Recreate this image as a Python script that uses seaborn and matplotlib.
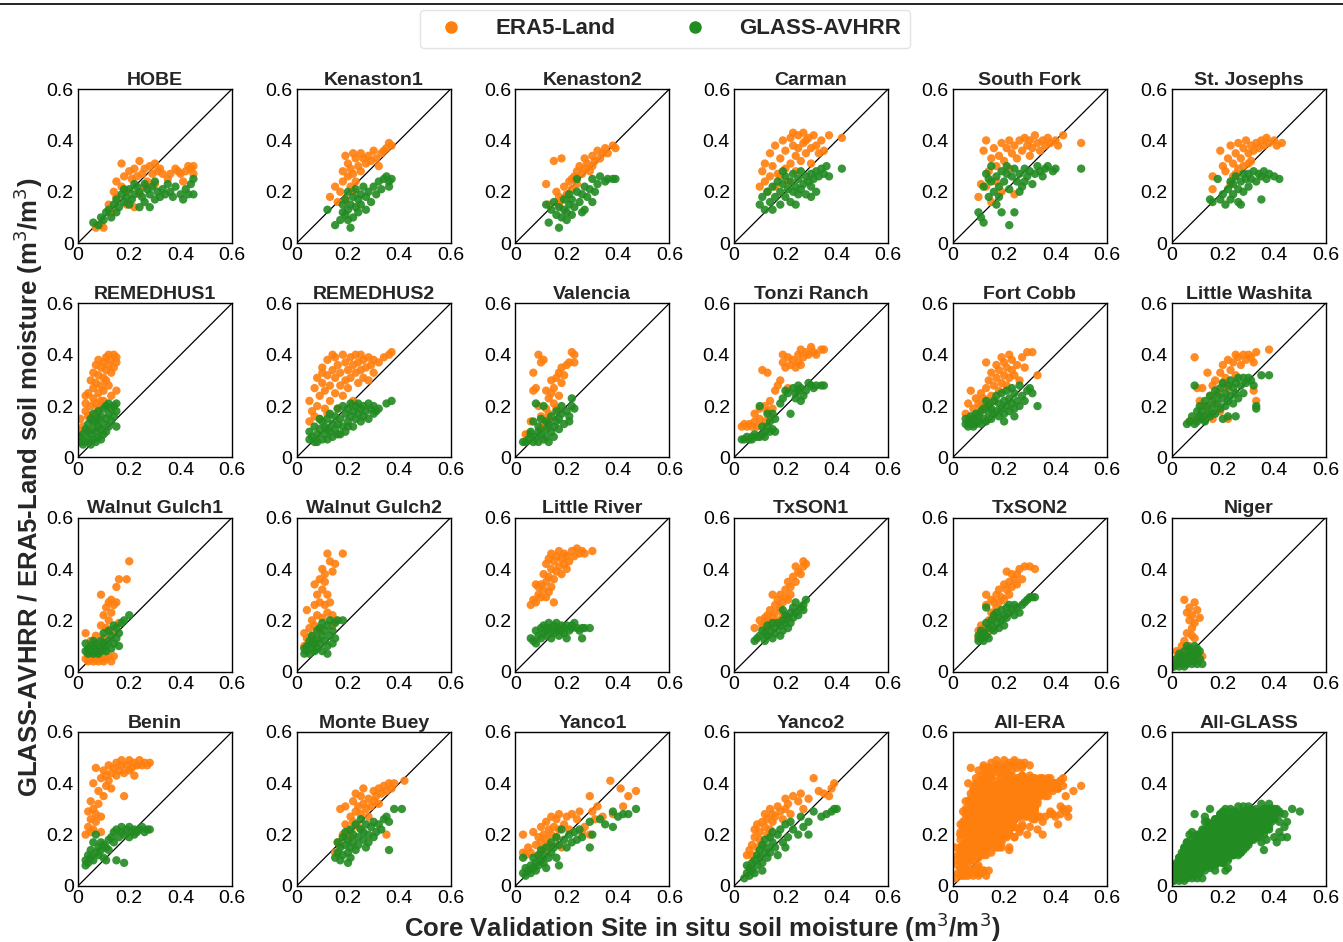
import pandas as pd
import matplotlib.pyplot as plt
import seaborn as sns

# site names in panel order (last two panels are the pooled data)
sites = ['HOBE', 'Kenaston1', 'Kenaston2', 'Carman', 'South Fork', 'St. Josephs',
         'REMEDHUS1', 'REMEDHUS2', 'Valencia', 'Tonzi Ranch', 'Fort Cobb', 'Little Washita',
         'Walnut Gulch1', 'Walnut Gulch2', 'Little River', 'TxSON1', 'TxSON2', 'Niger',
         'Benin', 'Monte Buey', 'Yanco1', 'Yanco2']
panels = sites + ['All-ERA', 'All-GLASS']
tick_vals = [0, 0.2, 0.4, 0.6]
tick_labels = ['0', '0.2', '0.4', '0.6']

# (in situ, product) pairs
hobe_era = [(0.07,0.06),(0.09,0.07),(0.10,0.06),(0.12,0.15),(0.13,0.12),(0.15,0.18),(0.15,0.24),(0.17,0.22),(0.17,0.31),(0.18,0.26),(0.19,0.20),(0.20,0.28),(0.21,0.25),(0.22,0.29),(0.23,0.26),(0.24,0.32),(0.25,0.27),(0.26,0.29),(0.27,0.24),(0.28,0.30),(0.29,0.27),(0.30,0.31),(0.31,0.28),(0.32,0.29),(0.33,0.27),(0.35,0.25),(0.36,0.27),(0.38,0.29),(0.39,0.28),(0.40,0.27),(0.42,0.28),(0.43,0.30),(0.44,0.29),(0.45,0.30),(0.45,0.27),(0.41,0.24),(0.22,0.14),(0.24,0.19),(0.19,0.15),(0.14,0.20),(0.26,0.22),(0.30,0.23)]
hobe_glass = [(0.06,0.08),(0.08,0.07),(0.09,0.10),(0.10,0.09),(0.11,0.12),(0.12,0.13),(0.13,0.10),(0.14,0.15),(0.15,0.17),(0.16,0.14),(0.17,0.19),(0.18,0.16),(0.19,0.18),(0.20,0.21),(0.21,0.17),(0.22,0.19),(0.23,0.22),(0.24,0.20),(0.25,0.18),(0.26,0.23),(0.27,0.21),(0.28,0.19),(0.29,0.22),(0.30,0.24),(0.31,0.20),(0.32,0.18),(0.33,0.21),(0.34,0.19),(0.36,0.20),(0.37,0.18),(0.38,0.22),(0.40,0.19),(0.41,0.17),(0.42,0.21),(0.43,0.19),(0.44,0.23),(0.45,0.25),(0.45,0.19),(0.20,0.15),(0.24,0.14),(0.28,0.14),(0.15,0.12),(0.22,0.23),(0.30,0.17),(0.35,0.23),(0.18,0.21),(0.26,0.16)]
kenaston1_era = [(0.13,0.18),(0.15,0.22),(0.16,0.16),(0.17,0.20),(0.18,0.24),(0.18,0.28),(0.19,0.34),(0.20,0.31),(0.20,0.26),(0.21,0.29),(0.21,0.22),(0.22,0.35),(0.22,0.27),(0.23,0.33),(0.23,0.24),(0.24,0.30),(0.25,0.35),(0.25,0.28),(0.26,0.33),(0.27,0.31),(0.28,0.34),(0.29,0.32),(0.30,0.36),(0.31,0.33),(0.32,0.30),(0.33,0.35),(0.34,0.36),(0.35,0.37),(0.36,0.39),(0.37,0.38),(0.22,0.20),(0.19,0.17)]
kenaston1_glass = [(0.12,0.13),(0.15,0.07),(0.17,0.09),(0.18,0.12),(0.18,0.15),(0.19,0.11),(0.19,0.17),(0.20,0.13),(0.20,0.20),(0.21,0.06),(0.21,0.15),(0.22,0.10),(0.22,0.18),(0.23,0.14),(0.23,0.21),(0.24,0.12),(0.24,0.17),(0.25,0.19),(0.25,0.15),(0.26,0.22),(0.27,0.13),(0.27,0.18),(0.28,0.20),(0.29,0.16),(0.30,0.22),(0.31,0.19),(0.32,0.24),(0.33,0.21),(0.34,0.25),(0.35,0.26),(0.36,0.24),(0.37,0.25),(0.36,0.22),(0.20,0.09)]
kenaston2_era = [(0.12,0.23),(0.13,0.15),(0.15,0.32),(0.16,0.20),(0.17,0.18),(0.18,0.33),(0.18,0.17),(0.19,0.22),(0.20,0.19),(0.21,0.24),(0.22,0.21),(0.23,0.26),(0.24,0.28),(0.24,0.23),(0.25,0.30),(0.26,0.27),(0.27,0.33),(0.27,0.29),(0.28,0.31),(0.29,0.28),(0.30,0.34),(0.30,0.30),(0.31,0.32),(0.32,0.36),(0.33,0.33),(0.34,0.35),(0.35,0.37),(0.36,0.35),(0.38,0.38),(0.39,0.37),(0.17,0.15),(0.22,0.25)]
kenaston2_glass = [(0.12,0.15),(0.13,0.08),(0.14,0.13),(0.15,0.16),(0.16,0.11),(0.17,0.14),(0.17,0.06),(0.18,0.10),(0.19,0.13),(0.19,0.17),(0.20,0.12),(0.21,0.15),(0.21,0.19),(0.22,0.11),(0.22,0.17),(0.23,0.14),(0.24,0.20),(0.25,0.16),(0.26,0.19),(0.27,0.22),(0.27,0.13),(0.28,0.18),(0.29,0.21),(0.30,0.16),(0.30,0.25),(0.31,0.20),(0.32,0.23),(0.33,0.26),(0.35,0.24),(0.36,0.25),(0.38,0.25),(0.39,0.25),(0.24,0.25),(0.26,0.12),(0.20,0.09)]
carman_era = [(0.10,0.22),(0.11,0.28),(0.12,0.24),(0.12,0.31),(0.14,0.26),(0.14,0.35),(0.15,0.30),(0.16,0.22),(0.16,0.38),(0.17,0.27),(0.18,0.33),(0.19,0.40),(0.20,0.29),(0.20,0.36),(0.21,0.24),(0.22,0.31),(0.22,0.41),(0.23,0.38),(0.24,0.34),(0.24,0.28),(0.25,0.42),(0.25,0.37),(0.26,0.32),(0.27,0.39),(0.27,0.43),(0.28,0.35),(0.29,0.41),(0.30,0.37),(0.30,0.31),(0.31,0.42),(0.32,0.38),(0.33,0.35),(0.34,0.40),(0.35,0.36),(0.37,0.42),(0.42,0.41),(0.18,0.26),(0.13,0.20),(0.23,0.43),(0.28,0.40)]
carman_glass = [(0.10,0.15),(0.11,0.18),(0.12,0.13),(0.13,0.20),(0.14,0.16),(0.15,0.22),(0.15,0.13),(0.16,0.18),(0.17,0.24),(0.18,0.15),(0.18,0.20),(0.19,0.23),(0.20,0.18),(0.20,0.26),(0.21,0.21),(0.22,0.16),(0.22,0.24),(0.23,0.27),(0.23,0.20),(0.24,0.22),(0.24,0.15),(0.25,0.25),(0.26,0.28),(0.26,0.21),(0.27,0.23),(0.28,0.26),(0.28,0.19),(0.29,0.24),(0.30,0.27),(0.30,0.22),(0.31,0.25),(0.32,0.28),(0.33,0.26),(0.34,0.29),(0.35,0.27),(0.36,0.30),(0.37,0.26),(0.42,0.29),(0.30,0.18),(0.32,0.20),(0.25,0.19),(0.19,0.28)]
southfork_era = [(0.10,0.18),(0.11,0.23),(0.12,0.36),(0.13,0.40),(0.14,0.28),(0.15,0.33),(0.15,0.16),(0.16,0.37),(0.17,0.30),(0.18,0.34),(0.19,0.39),(0.19,0.20),(0.20,0.32),(0.21,0.37),(0.22,0.40),(0.22,0.29),(0.23,0.35),(0.24,0.38),(0.25,0.33),(0.26,0.40),(0.27,0.36),(0.28,0.41),(0.29,0.38),(0.30,0.34),(0.30,0.40),(0.31,0.37),(0.32,0.42),(0.33,0.39),(0.34,0.36),(0.35,0.40),(0.36,0.38),(0.37,0.41),(0.38,0.39),(0.40,0.40),(0.41,0.38),(0.43,0.42),(0.50,0.39),(0.24,0.19),(0.17,0.24),(0.13,0.22)]
southfork_glass = [(0.10,0.12),(0.11,0.10),(0.12,0.08),(0.12,0.22),(0.13,0.27),(0.14,0.18),(0.15,0.24),(0.15,0.30),(0.16,0.20),(0.17,0.15),(0.17,0.26),(0.18,0.22),(0.19,0.28),(0.19,0.12),(0.20,0.24),(0.21,0.27),(0.22,0.07),(0.22,0.21),(0.23,0.26),(0.24,0.12),(0.24,0.29),(0.25,0.24),(0.26,0.27),(0.27,0.22),(0.28,0.29),(0.29,0.26),(0.30,0.28),(0.31,0.23),(0.32,0.27),(0.33,0.30),(0.34,0.28),(0.35,0.26),(0.36,0.29),(0.37,0.30),(0.39,0.28),(0.40,0.29),(0.50,0.29),(0.26,0.20),(0.18,0.18),(0.14,0.25),(0.21,0.30),(0.28,0.24)]
stjosephs_era = [(0.16,0.26),(0.16,0.21),(0.19,0.36),(0.20,0.30),(0.21,0.28),(0.22,0.33),(0.23,0.23),(0.23,0.38),(0.24,0.31),(0.25,0.35),(0.26,0.29),(0.26,0.39),(0.27,0.33),(0.28,0.37),(0.28,0.30),(0.29,0.40),(0.30,0.35),(0.31,0.38),(0.31,0.32),(0.32,0.36),(0.33,0.39),(0.34,0.37),(0.35,0.40),(0.36,0.38),(0.37,0.41),(0.38,0.39),(0.40,0.40),(0.41,0.38),(0.43,0.39),(0.25,0.27),(0.30,0.31),(0.24,0.26)]
stjosephs_glass = [(0.15,0.17),(0.16,0.16),(0.18,0.25),(0.19,0.17),(0.20,0.19),(0.21,0.15),(0.22,0.21),(0.23,0.17),(0.24,0.23),(0.24,0.19),(0.25,0.26),(0.26,0.21),(0.26,0.16),(0.27,0.24),(0.28,0.27),(0.28,0.20),(0.29,0.25),(0.30,0.22),(0.30,0.27),(0.31,0.25),(0.32,0.28),(0.33,0.24),(0.34,0.27),(0.35,0.26),(0.36,0.28),(0.37,0.25),(0.38,0.27),(0.40,0.26),(0.42,0.25),(0.35,0.17),(0.27,0.15),(0.23,0.24)]
remedhus1_era = [(0.01,0.10),(0.01,0.15),(0.02,0.12),(0.03,0.18),(0.03,0.21),(0.04,0.16),(0.04,0.25),(0.05,0.20),(0.05,0.30),(0.06,0.23),(0.06,0.27),(0.06,0.33),(0.07,0.21),(0.07,0.29),(0.07,0.36),(0.08,0.25),(0.08,0.32),(0.08,0.38),(0.09,0.22),(0.09,0.28),(0.09,0.35),(0.10,0.26),(0.10,0.31),(0.10,0.37),(0.11,0.30),(0.11,0.34),(0.11,0.39),(0.12,0.28),(0.12,0.36),(0.12,0.40),(0.13,0.33),(0.13,0.38),(0.14,0.35),(0.14,0.40),(0.15,0.37),(0.15,0.39),(0.15,0.26),(0.05,0.16),(0.08,0.19),(0.10,0.22),(0.13,0.24),(0.07,0.17),(0.11,0.20),(0.03,0.24)]
remedhus1_glass = [(0.01,0.06),(0.01,0.08),(0.02,0.05),(0.02,0.09),(0.03,0.06),(0.03,0.11),(0.04,0.07),(0.04,0.13),(0.05,0.05),(0.05,0.09),(0.05,0.15),(0.06,0.07),(0.06,0.11),(0.06,0.17),(0.07,0.06),(0.07,0.10),(0.07,0.14),(0.08,0.08),(0.08,0.12),(0.08,0.18),(0.09,0.07),(0.09,0.11),(0.09,0.16),(0.10,0.09),(0.10,0.13),(0.10,0.19),(0.11,0.10),(0.11,0.15),(0.11,0.20),(0.12,0.12),(0.12,0.17),(0.13,0.14),(0.13,0.19),(0.14,0.16),(0.14,0.20),(0.15,0.18),(0.15,0.21),(0.15,0.12),(0.04,0.10),(0.06,0.14),(0.08,0.15),(0.12,0.21)]
remedhus2_era = [(0.05,0.14),(0.05,0.22),(0.06,0.18),(0.07,0.27),(0.08,0.20),(0.08,0.31),(0.09,0.15),(0.09,0.24),(0.10,0.29),(0.10,0.35),(0.11,0.19),(0.11,0.26),(0.12,0.32),(0.12,0.38),(0.13,0.22),(0.13,0.28),(0.14,0.34),(0.15,0.25),(0.15,0.31),(0.15,0.39),(0.16,0.19),(0.16,0.36),(0.17,0.28),(0.17,0.33),(0.18,0.40),(0.18,0.24),(0.19,0.30),(0.19,0.37),(0.20,0.34),(0.20,0.27),(0.21,0.39),(0.21,0.31),(0.22,0.36),(0.22,0.22),(0.23,0.33),(0.23,0.40),(0.24,0.29),(0.24,0.37),(0.25,0.34),(0.25,0.40),(0.26,0.31),(0.26,0.38),(0.27,0.35),(0.28,0.39),(0.28,0.30),(0.29,0.36),(0.30,0.38),(0.30,0.33),(0.32,0.37),(0.34,0.39),(0.36,0.40),(0.37,0.41),(0.07,0.16),(0.12,0.17),(0.14,0.40),(0.10,0.33)]
remedhus2_glass = [(0.05,0.07),(0.05,0.10),(0.06,0.08),(0.07,0.12),(0.08,0.06),(0.08,0.09),(0.09,0.11),(0.10,0.07),(0.10,0.14),(0.11,0.09),(0.11,0.12),(0.12,0.15),(0.12,0.07),(0.13,0.10),(0.13,0.17),(0.14,0.13),(0.14,0.08),(0.15,0.11),(0.15,0.16),(0.16,0.19),(0.16,0.13),(0.17,0.09),(0.17,0.15),(0.18,0.20),(0.18,0.12),(0.19,0.17),(0.19,0.10),(0.20,0.14),(0.20,0.19),(0.21,0.16),(0.21,0.21),(0.22,0.12),(0.22,0.18),(0.23,0.15),(0.23,0.20),(0.24,0.17),(0.24,0.21),(0.25,0.14),(0.25,0.19),(0.26,0.16),(0.26,0.20),(0.27,0.18),(0.28,0.21),(0.28,0.15),(0.29,0.19),(0.30,0.17),(0.30,0.20),(0.31,0.18),(0.32,0.19),(0.35,0.21),(0.37,0.22),(0.07,0.06),(0.09,0.15),(0.12,0.11),(0.16,0.09),(0.20,0.12)]
valencia_era = [(0.04,0.09),(0.05,0.09),(0.06,0.14),(0.07,0.26),(0.07,0.33),(0.08,0.27),(0.09,0.40),(0.09,0.20),(0.10,0.37),(0.10,0.16),(0.11,0.13),(0.11,0.38),(0.12,0.26),(0.12,0.19),(0.13,0.23),(0.13,0.17),(0.14,0.25),(0.14,0.30),(0.15,0.21),(0.15,0.27),(0.16,0.31),(0.16,0.19),(0.17,0.33),(0.17,0.24),(0.18,0.29),(0.18,0.35),(0.19,0.32),(0.20,0.36),(0.21,0.37),(0.22,0.41),(0.23,0.40),(0.23,0.37),(0.13,0.15),(0.10,0.11),(0.12,0.12)]
valencia_glass = [(0.03,0.06),(0.04,0.06),(0.05,0.07),(0.06,0.10),(0.07,0.14),(0.07,0.06),(0.08,0.08),(0.08,0.21),(0.09,0.12),(0.09,0.06),(0.10,0.09),(0.10,0.15),(0.11,0.07),(0.11,0.20),(0.12,0.11),(0.12,0.08),(0.13,0.13),(0.13,0.06),(0.14,0.10),(0.14,0.16),(0.15,0.12),(0.15,0.08),(0.16,0.14),(0.16,0.18),(0.17,0.11),(0.17,0.15),(0.18,0.17),(0.18,0.20),(0.19,0.13),(0.20,0.18),(0.21,0.16),(0.21,0.14),(0.22,0.20),(0.22,0.23),(0.23,0.19),(0.06,0.09),(0.09,0.10),(0.12,0.14)]
tonzi_era = [(0.03,0.12),(0.04,0.13),(0.05,0.12),(0.06,0.13),(0.07,0.12),(0.08,0.14),(0.08,0.17),(0.09,0.12),(0.10,0.15),(0.10,0.19),(0.11,0.34),(0.12,0.14),(0.13,0.33),(0.13,0.18),(0.14,0.16),(0.14,0.22),(0.15,0.19),(0.16,0.26),(0.17,0.28),(0.18,0.30),(0.19,0.37),(0.20,0.35),(0.21,0.39),(0.21,0.27),(0.22,0.36),(0.23,0.38),(0.24,0.35),(0.25,0.40),(0.25,0.37),(0.26,0.42),(0.26,0.36),(0.27,0.39),(0.28,0.41),(0.29,0.40),(0.30,0.43),(0.31,0.41),(0.32,0.40),(0.34,0.42),(0.35,0.42),(0.19,0.40),(0.12,0.20)]
tonzi_glass = [(0.03,0.07),(0.04,0.07),(0.05,0.08),(0.06,0.07),(0.07,0.08),(0.07,0.07),(0.08,0.09),(0.09,0.08),(0.10,0.08),(0.10,0.20),(0.11,0.09),(0.12,0.10),(0.12,0.08),(0.13,0.12),(0.14,0.10),(0.14,0.14),(0.15,0.11),(0.15,0.17),(0.16,0.15),(0.16,0.10),(0.18,0.21),(0.19,0.23),(0.20,0.26),(0.21,0.25),(0.22,0.17),(0.23,0.27),(0.24,0.25),(0.24,0.23),(0.25,0.28),(0.25,0.26),(0.26,0.22),(0.26,0.27),(0.27,0.24),(0.28,0.26),(0.29,0.29),(0.30,0.28),(0.31,0.27),(0.32,0.28),(0.34,0.28),(0.35,0.28),(0.13,0.17),(0.11,0.12)]
fortcobb_era = [(0.05,0.17),(0.06,0.21),(0.07,0.26),(0.07,0.15),(0.08,0.19),(0.09,0.23),(0.10,0.17),(0.10,0.21),(0.11,0.25),(0.12,0.19),(0.12,0.23),(0.13,0.37),(0.13,0.27),(0.14,0.21),(0.14,0.30),(0.15,0.24),(0.15,0.33),(0.16,0.28),(0.16,0.22),(0.17,0.31),(0.17,0.36),(0.18,0.26),(0.18,0.34),(0.19,0.29),(0.19,0.39),(0.20,0.32),(0.20,0.37),(0.21,0.28),(0.21,0.35),(0.22,0.40),(0.22,0.31),(0.23,0.34),(0.23,0.38),(0.24,0.32),(0.25,0.36),(0.26,0.30),(0.27,0.39),(0.28,0.35),(0.29,0.41),(0.31,0.41),(0.33,0.32),(0.11,0.20)]
fortcobb_glass = [(0.05,0.13),(0.05,0.15),(0.06,0.12),(0.06,0.14),(0.07,0.13),(0.07,0.16),(0.08,0.12),(0.08,0.15),(0.09,0.13),(0.09,0.17),(0.10,0.14),(0.10,0.16),(0.11,0.13),(0.11,0.18),(0.12,0.15),(0.12,0.19),(0.13,0.14),(0.13,0.22),(0.14,0.17),(0.14,0.20),(0.15,0.15),(0.15,0.19),(0.16,0.17),(0.16,0.22),(0.17,0.18),(0.17,0.24),(0.18,0.16),(0.18,0.21),(0.19,0.19),(0.19,0.25),(0.20,0.17),(0.20,0.22),(0.21,0.20),(0.21,0.26),(0.22,0.18),(0.22,0.23),(0.23,0.21),(0.23,0.27),(0.24,0.19),(0.24,0.25),(0.25,0.22),(0.26,0.20),(0.26,0.28),(0.27,0.24),(0.28,0.22),(0.29,0.26),(0.30,0.27),(0.31,0.25),(0.33,0.20),(0.24,0.16),(0.20,0.14)]
washita_era = [(0.07,0.14),(0.09,0.39),(0.10,0.15),(0.11,0.22),(0.12,0.27),(0.12,0.16),(0.13,0.20),(0.14,0.33),(0.15,0.24),(0.15,0.17),(0.16,0.28),(0.17,0.21),(0.17,0.30),(0.18,0.25),(0.19,0.33),(0.19,0.18),(0.20,0.29),(0.20,0.36),(0.21,0.31),(0.22,0.38),(0.22,0.27),(0.23,0.34),(0.24,0.37),(0.25,0.40),(0.25,0.32),(0.26,0.39),(0.27,0.36),(0.28,0.40),(0.29,0.38),(0.30,0.40),(0.31,0.39),(0.32,0.37),(0.33,0.41),(0.38,0.42),(0.32,0.26),(0.33,0.22),(0.12,0.20),(0.10,0.27),(0.16,0.15),(0.22,0.15)]
washita_glass = [(0.06,0.13),(0.07,0.14),(0.08,0.16),(0.09,0.28),(0.09,0.13),(0.10,0.18),(0.10,0.14),(0.11,0.16),(0.11,0.20),(0.12,0.15),(0.12,0.18),(0.13,0.22),(0.13,0.14),(0.14,0.17),(0.14,0.20),(0.15,0.24),(0.15,0.16),(0.16,0.19),(0.16,0.22),(0.17,0.26),(0.17,0.17),(0.18,0.21),(0.18,0.24),(0.19,0.27),(0.19,0.19),(0.20,0.23),(0.20,0.29),(0.21,0.25),(0.21,0.20),(0.22,0.28),(0.22,0.22),(0.23,0.30),(0.23,0.24),(0.24,0.27),(0.24,0.21),(0.25,0.29),(0.25,0.25),(0.26,0.31),(0.26,0.23),(0.27,0.28),(0.28,0.31),(0.28,0.25),(0.29,0.29),(0.30,0.31),(0.31,0.30),(0.32,0.28),(0.33,0.20),(0.33,0.19),(0.35,0.32),(0.38,0.32),(0.20,0.15),(0.22,0.16),(0.25,0.16)]
walnut1_era = [(0.03,0.05),(0.03,0.15),(0.04,0.04),(0.04,0.06),(0.05,0.05),(0.05,0.12),(0.06,0.04),(0.06,0.06),(0.07,0.05),(0.07,0.14),(0.08,0.04),(0.08,0.06),(0.08,0.10),(0.09,0.05),(0.09,0.18),(0.09,0.30),(0.10,0.04),(0.10,0.07),(0.10,0.22),(0.11,0.05),(0.11,0.17),(0.11,0.25),(0.12,0.06),(0.12,0.20),(0.12,0.27),(0.13,0.04),(0.13,0.23),(0.13,0.28),(0.14,0.06),(0.14,0.26),(0.15,0.33),(0.15,0.27),(0.16,0.36),(0.16,0.19),(0.19,0.36),(0.20,0.43),(0.13,0.16),(0.10,0.13),(0.06,0.10)]
walnut1_glass = [(0.03,0.08),(0.03,0.11),(0.04,0.07),(0.04,0.09),(0.05,0.08),(0.05,0.10),(0.06,0.07),(0.06,0.09),(0.07,0.11),(0.07,0.08),(0.08,0.07),(0.08,0.09),(0.09,0.08),(0.09,0.12),(0.10,0.09),(0.10,0.15),(0.11,0.10),(0.11,0.08),(0.12,0.12),(0.12,0.16),(0.13,0.09),(0.13,0.14),(0.14,0.18),(0.14,0.11),(0.15,0.13),(0.15,0.17),(0.16,0.15),(0.17,0.19),(0.18,0.20),(0.20,0.22),(0.16,0.10),(0.06,0.12),(0.10,0.11)]
walnut2_era = [(0.03,0.15),(0.03,0.10),(0.04,0.13),(0.04,0.24),(0.05,0.17),(0.05,0.11),(0.06,0.20),(0.06,0.14),(0.07,0.26),(0.07,0.18),(0.07,0.34),(0.08,0.22),(0.08,0.30),(0.08,0.12),(0.09,0.27),(0.09,0.36),(0.09,0.16),(0.10,0.32),(0.10,0.40),(0.10,0.21),(0.11,0.35),(0.11,0.26),(0.11,0.38),(0.12,0.46),(0.12,0.30),(0.12,0.23),(0.13,0.43),(0.13,0.27),(0.14,0.39),(0.14,0.22),(0.15,0.42),(0.15,0.20),(0.18,0.46),(0.14,0.18)]
walnut2_glass = [(0.03,0.09),(0.03,0.07),(0.04,0.10),(0.04,0.08),(0.05,0.12),(0.05,0.07),(0.06,0.09),(0.06,0.14),(0.07,0.11),(0.07,0.08),(0.08,0.13),(0.08,0.16),(0.08,0.09),(0.09,0.11),(0.09,0.17),(0.10,0.14),(0.10,0.08),(0.10,0.19),(0.11,0.12),(0.11,0.16),(0.12,0.10),(0.12,0.18),(0.13,0.14),(0.13,0.20),(0.14,0.16),(0.14,0.11),(0.15,0.19),(0.15,0.13),(0.16,0.20),(0.18,0.20),(0.12,0.07),(0.06,0.11)]
littleriver_era = [(0.06,0.26),(0.07,0.28),(0.08,0.27),(0.08,0.34),(0.09,0.30),(0.10,0.29),(0.10,0.34),(0.11,0.32),(0.11,0.38),(0.12,0.35),(0.12,0.42),(0.13,0.31),(0.13,0.37),(0.13,0.44),(0.14,0.33),(0.14,0.40),(0.14,0.46),(0.15,0.27),(0.15,0.36),(0.15,0.43),(0.16,0.39),(0.16,0.45),(0.17,0.41),(0.17,0.47),(0.18,0.44),(0.18,0.38),(0.19,0.46),(0.19,0.42),(0.20,0.40),(0.20,0.45),(0.21,0.43),(0.22,0.47),(0.23,0.45),(0.24,0.48),(0.25,0.46),(0.26,0.47),(0.27,0.46),(0.30,0.47),(0.09,0.33),(0.12,0.29)]
littleriver_glass = [(0.06,0.13),(0.07,0.12),(0.08,0.11),(0.08,0.16),(0.09,0.14),(0.10,0.13),(0.10,0.17),(0.11,0.15),(0.11,0.18),(0.12,0.16),(0.12,0.14),(0.13,0.17),(0.13,0.19),(0.14,0.16),(0.14,0.13),(0.15,0.18),(0.15,0.15),(0.16,0.17),(0.16,0.19),(0.17,0.16),(0.17,0.14),(0.18,0.18),(0.18,0.16),(0.19,0.17),(0.19,0.15),(0.20,0.18),(0.20,0.13),(0.21,0.16),(0.22,0.17),(0.23,0.19),(0.24,0.17),(0.25,0.16),(0.26,0.17),(0.27,0.17),(0.26,0.13),(0.29,0.17),(0.22,0.18),(0.12,0.17)]
txson1_era = [(0.08,0.17),(0.10,0.20),(0.11,0.18),(0.12,0.21),(0.13,0.17),(0.13,0.22),(0.14,0.19),(0.14,0.24),(0.15,0.30),(0.15,0.21),(0.16,0.23),(0.16,0.26),(0.17,0.28),(0.17,0.20),(0.18,0.30),(0.18,0.25),(0.19,0.27),(0.19,0.22),(0.20,0.29),(0.20,0.32),(0.21,0.28),(0.21,0.35),(0.22,0.30),(0.22,0.33),(0.23,0.37),(0.24,0.35),(0.24,0.41),(0.25,0.39),(0.26,0.38),(0.27,0.41),(0.27,0.43),(0.28,0.42),(0.12,0.19)]
txson1_glass = [(0.08,0.12),(0.09,0.13),(0.10,0.14),(0.11,0.16),(0.12,0.12),(0.12,0.15),(0.13,0.14),(0.13,0.18),(0.14,0.16),(0.15,0.13),(0.15,0.19),(0.16,0.17),(0.16,0.15),(0.17,0.19),(0.18,0.14),(0.18,0.18),(0.19,0.20),(0.19,0.16),(0.20,0.19),(0.20,0.22),(0.21,0.17),(0.21,0.21),(0.22,0.23),(0.22,0.19),(0.23,0.25),(0.23,0.21),(0.24,0.27),(0.24,0.23),(0.25,0.22),(0.26,0.25),(0.27,0.26),(0.28,0.28),(0.27,0.24),(0.19,0.24)]
txson2_era = [(0.10,0.13),(0.10,0.16),(0.11,0.15),(0.12,0.14),(0.12,0.17),(0.13,0.30),(0.13,0.26),(0.14,0.16),(0.14,0.20),(0.15,0.28),(0.15,0.23),(0.16,0.21),(0.16,0.27),(0.17,0.30),(0.17,0.25),(0.18,0.32),(0.18,0.27),(0.19,0.29),(0.20,0.34),(0.20,0.28),(0.21,0.32),(0.21,0.39),(0.22,0.30),(0.22,0.35),(0.23,0.33),(0.23,0.38),(0.24,0.36),(0.25,0.34),(0.25,0.38),(0.26,0.40),(0.27,0.36),(0.28,0.41),(0.30,0.41),(0.32,0.40),(0.11,0.18)]
txson2_glass = [(0.10,0.12),(0.10,0.14),(0.11,0.13),(0.11,0.16),(0.12,0.12),(0.12,0.15),(0.13,0.14),(0.13,0.19),(0.14,0.13),(0.14,0.17),(0.15,0.18),(0.15,0.20),(0.16,0.16),(0.16,0.22),(0.17,0.19),(0.17,0.23),(0.18,0.17),(0.18,0.21),(0.19,0.24),(0.19,0.20),(0.20,0.22),(0.20,0.18),(0.21,0.25),(0.21,0.21),(0.22,0.23),(0.22,0.26),(0.23,0.24),(0.24,0.26),(0.24,0.22),(0.25,0.25),(0.26,0.23),(0.27,0.26),(0.28,0.27),(0.29,0.28),(0.30,0.29),(0.31,0.29),(0.32,0.29),(0.13,0.25)]
niger_era = [(0.01,0.03),(0.02,0.05),(0.02,0.08),(0.03,0.04),(0.03,0.07),(0.04,0.06),(0.04,0.10),(0.05,0.12),(0.05,0.04),(0.05,0.28),(0.06,0.23),(0.06,0.15),(0.06,0.08),(0.07,0.20),(0.07,0.25),(0.07,0.10),(0.08,0.17),(0.08,0.22),(0.08,0.06),(0.09,0.27),(0.09,0.13),(0.09,0.19),(0.10,0.24),(0.10,0.08),(0.11,0.21),(0.11,0.05),(0.12,0.06),(0.08,0.14)]
niger_glass = [(0.01,0.02),(0.02,0.03),(0.02,0.05),(0.03,0.02),(0.03,0.04),(0.04,0.03),(0.04,0.06),(0.05,0.02),(0.05,0.05),(0.05,0.08),(0.06,0.03),(0.06,0.06),(0.06,0.10),(0.07,0.04),(0.07,0.07),(0.07,0.09),(0.08,0.03),(0.08,0.05),(0.08,0.08),(0.09,0.04),(0.09,0.06),(0.09,0.10),(0.10,0.03),(0.10,0.07),(0.10,0.09),(0.11,0.05),(0.11,0.08),(0.12,0.03),(0.03,0.07)]
benin_era = [(0.03,0.20),(0.04,0.23),(0.04,0.29),(0.05,0.21),(0.05,0.26),(0.05,0.33),(0.06,0.22),(0.06,0.30),(0.06,0.40),(0.07,0.25),(0.07,0.28),(0.07,0.46),(0.08,0.32),(0.08,0.37),(0.09,0.27),(0.09,0.42),(0.10,0.35),(0.10,0.45),(0.11,0.39),(0.11,0.43),(0.12,0.41),(0.12,0.47),(0.13,0.38),(0.13,0.44),(0.14,0.46),(0.15,0.43),(0.15,0.48),(0.16,0.45),(0.17,0.47),(0.17,0.49),(0.18,0.35),(0.18,0.44),(0.19,0.47),(0.20,0.45),(0.20,0.49),(0.21,0.46),(0.22,0.48),(0.23,0.47),(0.24,0.49),(0.25,0.47),(0.26,0.48),(0.27,0.47),(0.28,0.48),(0.22,0.43),(0.09,0.21)]
benin_glass = [(0.03,0.08),(0.03,0.10),(0.04,0.09),(0.04,0.12),(0.05,0.11),(0.05,0.14),(0.06,0.10),(0.06,0.17),(0.07,0.13),(0.07,0.20),(0.08,0.12),(0.08,0.15),(0.09,0.14),(0.09,0.17),(0.10,0.16),(0.10,0.11),(0.11,0.10),(0.11,0.15),(0.12,0.18),(0.12,0.14),(0.13,0.19),(0.14,0.17),(0.14,0.21),(0.15,0.10),(0.15,0.22),(0.16,0.19),(0.17,0.21),(0.17,0.23),(0.18,0.20),(0.18,0.09),(0.19,0.22),(0.20,0.19),(0.20,0.23),(0.21,0.21),(0.22,0.20),(0.22,0.22),(0.23,0.21),(0.24,0.22),(0.25,0.23),(0.26,0.21),(0.27,0.22),(0.28,0.22)]
montebuey_era = [(0.15,0.13),(0.16,0.17),(0.17,0.30),(0.18,0.20),(0.19,0.31),(0.19,0.24),(0.20,0.22),(0.21,0.27),(0.21,0.19),(0.22,0.33),(0.22,0.25),(0.23,0.29),(0.23,0.36),(0.24,0.31),(0.24,0.23),(0.25,0.35),(0.25,0.28),(0.26,0.32),(0.26,0.38),(0.27,0.30),(0.28,0.34),(0.28,0.27),(0.29,0.31),(0.30,0.33),(0.30,0.37),(0.31,0.35),(0.32,0.32),(0.32,0.38),(0.33,0.36),(0.34,0.39),(0.35,0.37),(0.36,0.40),(0.37,0.38),(0.38,0.40),(0.42,0.41),(0.35,0.20),(0.17,0.16)]
montebuey_glass = [(0.15,0.11),(0.16,0.13),(0.16,0.17),(0.17,0.10),(0.17,0.15),(0.18,0.19),(0.18,0.12),(0.19,0.16),(0.19,0.21),(0.20,0.13),(0.20,0.18),(0.21,0.11),(0.21,0.15),(0.21,0.22),(0.22,0.17),(0.22,0.20),(0.23,0.14),(0.23,0.24),(0.24,0.19),(0.24,0.16),(0.25,0.22),(0.25,0.26),(0.26,0.18),(0.26,0.21),(0.27,0.15),(0.27,0.24),(0.28,0.20),(0.28,0.17),(0.29,0.23),(0.30,0.19),(0.30,0.25),(0.31,0.21),(0.32,0.24),(0.33,0.22),(0.34,0.26),(0.35,0.27),(0.36,0.14),(0.36,0.25),(0.38,0.30),(0.41,0.30),(0.20,0.09)]
yanco1_era = [(0.03,0.13),(0.03,0.20),(0.04,0.12),(0.05,0.15),(0.06,0.13),(0.07,0.21),(0.08,0.16),(0.09,0.19),(0.09,0.12),(0.10,0.17),(0.10,0.23),(0.11,0.14),(0.11,0.20),(0.12,0.18),(0.12,0.25),(0.13,0.16),(0.13,0.22),(0.14,0.20),(0.14,0.27),(0.15,0.23),(0.16,0.19),(0.16,0.26),(0.17,0.22),(0.17,0.28),(0.18,0.15),(0.19,0.24),(0.20,0.27),(0.21,0.22),(0.22,0.28),(0.24,0.26),(0.25,0.29),(0.27,0.23),(0.29,0.35),(0.30,0.29),(0.31,0.26),(0.32,0.31),(0.34,0.27),(0.37,0.41),(0.38,0.28),(0.41,0.38),(0.42,0.31),(0.44,0.35),(0.47,0.37),(0.26,0.21),(0.29,0.20)]
yanco1_glass = [(0.03,0.05),(0.04,0.04),(0.04,0.07),(0.05,0.06),(0.06,0.05),(0.06,0.08),(0.07,0.07),(0.07,0.11),(0.08,0.06),(0.08,0.09),(0.09,0.12),(0.09,0.08),(0.10,0.10),(0.10,0.14),(0.11,0.09),(0.11,0.12),(0.12,0.15),(0.12,0.07),(0.13,0.11),(0.14,0.17),(0.14,0.13),(0.15,0.15),(0.16,0.19),(0.16,0.11),(0.17,0.08),(0.17,0.16),(0.18,0.22),(0.19,0.18),(0.20,0.15),(0.21,0.20),(0.22,0.17),(0.23,0.21),(0.24,0.18),(0.25,0.22),(0.26,0.19),(0.29,0.25),(0.29,0.15),(0.30,0.20),(0.33,0.26),(0.35,0.24),(0.38,0.23),(0.38,0.29),(0.40,0.27),(0.42,0.28),(0.44,0.28),(0.47,0.30),(0.03,0.11)]
yanco2_era = [(0.05,0.12),(0.06,0.14),(0.07,0.16),(0.07,0.12),(0.08,0.19),(0.08,0.22),(0.09,0.15),(0.09,0.24),(0.10,0.18),(0.10,0.21),(0.11,0.25),(0.11,0.16),(0.12,0.23),(0.12,0.28),(0.13,0.20),(0.13,0.26),(0.14,0.30),(0.14,0.22),(0.15,0.25),(0.15,0.28),(0.16,0.27),(0.17,0.31),(0.18,0.29),(0.19,0.26),(0.20,0.30),(0.21,0.32),(0.22,0.28),(0.23,0.35),(0.25,0.33),(0.26,0.36),(0.27,0.30),(0.29,0.34),(0.31,0.42),(0.33,0.37),(0.35,0.36),(0.37,0.35),(0.38,0.38),(0.39,0.40),(0.20,0.34)]
yanco2_glass = [(0.04,0.03),(0.05,0.05),(0.05,0.08),(0.06,0.04),(0.06,0.07),(0.07,0.09),(0.07,0.06),(0.08,0.10),(0.08,0.05),(0.09,0.12),(0.09,0.08),(0.10,0.11),(0.10,0.14),(0.11,0.09),(0.11,0.16),(0.12,0.13),(0.12,0.18),(0.13,0.11),(0.13,0.15),(0.14,0.19),(0.14,0.13),(0.15,0.17),(0.15,0.21),(0.16,0.15),(0.17,0.20),(0.17,0.12),(0.18,0.22),(0.19,0.17),(0.20,0.24),(0.20,0.15),(0.21,0.19),(0.22,0.25),(0.23,0.22),(0.25,0.20),(0.26,0.27),(0.27,0.23),(0.29,0.25),(0.29,0.20),(0.31,0.29),(0.34,0.27),(0.36,0.28),(0.38,0.29),(0.39,0.30),(0.40,0.30),(0.11,0.06)]

era_lists = [hobe_era, kenaston1_era, kenaston2_era, carman_era, southfork_era, stjosephs_era,
             remedhus1_era, remedhus2_era, valencia_era, tonzi_era, fortcobb_era, washita_era,
             walnut1_era, walnut2_era, littleriver_era, txson1_era, txson2_era, niger_era,
             benin_era, montebuey_era, yanco1_era, yanco2_era]
glass_lists = [hobe_glass, kenaston1_glass, kenaston2_glass, carman_glass, southfork_glass, stjosephs_glass,
               remedhus1_glass, remedhus2_glass, valencia_glass, tonzi_glass, fortcobb_glass, washita_glass,
               walnut1_glass, walnut2_glass, littleriver_glass, txson1_glass, txson2_glass, niger_glass,
               benin_glass, montebuey_glass, yanco1_glass, yanco2_glass]

# long table: ERA rows first so GLASS is drawn on top
rows = []
for source, lists in [('ERA5-Land', era_lists), ('GLASS-AVHRR', glass_lists)]:
    for site, pts in zip(sites, lists):
        for x, y in pts:
            rows.append({'site': site, 'source': source, 'insitu': x, 'product': y})
df = pd.DataFrame(rows)

colors = {'ERA5-Land': '#ff7f0e', 'GLASS-AVHRR': '#228b22'}

sns.set_theme(style='white')
plt.rcParams['font.family'] = ['Liberation Sans', 'DejaVu Sans']

fig, axes = plt.subplots(4, 6, figsize=(13.43, 9.42), dpi=100)
fig.subplots_adjust(left=0.058, right=0.987, top=0.9055, bottom=0.0594, wspace=0.42, hspace=0.39)

for ax, name in zip(axes.flat, panels):
    if name == 'All-ERA':
        sub = df[df['source'] == 'ERA5-Land']
    elif name == 'All-GLASS':
        sub = df[df['source'] == 'GLASS-AVHRR']
    else:
        sub = df[df['site'] == name]
    # 1:1 line sits under the points
    ax.plot([0, 0.6], [0, 0.6], color='black', lw=0.9, zorder=1)
    sns.scatterplot(data=sub, x='insitu', y='product', hue='source', palette=colors,
                    s=36, edgecolor='none', alpha=0.9, legend=False, ax=ax, zorder=2)
    ax.set_xlim(0, 0.6)
    ax.set_ylim(0, 0.6)
    ax.set_aspect('equal')
    ax.set_xticks(tick_vals)
    ax.set_yticks(tick_vals)
    ax.set_xticklabels(tick_labels)
    ax.set_yticklabels(tick_labels)
    ax.tick_params(labelsize=14, length=2, pad=1, color='black', labelcolor='black')
    ax.set_xlabel('')
    ax.set_ylabel('')
    ax.set_title(name, fontsize=14, fontweight='bold', pad=3)
    for sp in ax.spines.values():
        sp.set_color('black')
        sp.set_linewidth(1.0)

# shared legend at top
handles = [plt.Line2D([], [], marker='o', ls='', color=c, markersize=8, label=k) for k, c in colors.items()]
fig.legend(handles=handles, loc='center', bbox_to_anchor=(665 / 1343, 1 - 29 / 942), ncol=2,
           prop={'weight': 'bold', 'size': 16}, frameon=True, columnspacing=2.6,
           handletextpad=1.0, borderpad=0.4, edgecolor='#dddddd')

fig.text(0.021, 0.483, 'GLASS-AVHRR / ERA5-Land soil moisture (m$^3$/m$^3$)', rotation=90,
         ha='center', va='center', fontsize=18.5, fontweight='bold')
fig.text(0.523, 0.016, 'Core Validation Site in situ soil moisture (m$^3$/m$^3$)',
         ha='center', va='center', fontsize=18.5, fontweight='bold')

# thin rule along the top edge
fig.add_artist(plt.Line2D([0, 1], [0.996, 0.996], color='black', lw=1.2, transform=fig.transFigure))

fig.savefig('out.png', dpi=100)
